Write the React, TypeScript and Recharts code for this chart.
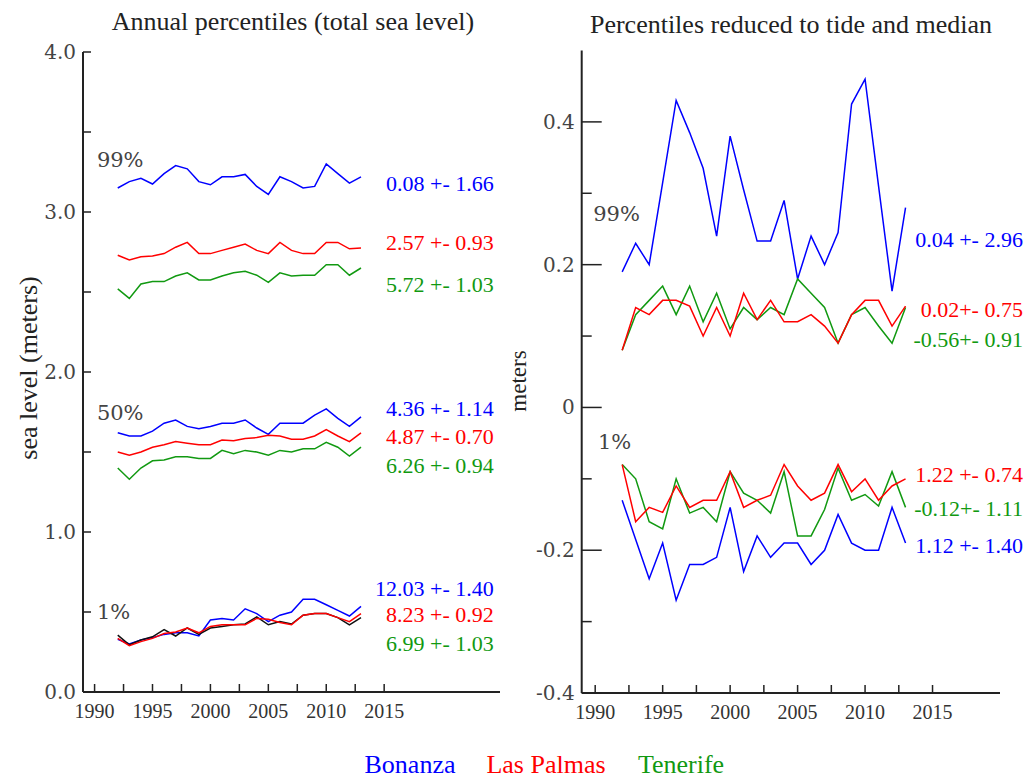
import React from 'react';
import { LineChart, Line, XAxis, YAxis, ReferenceDot } from 'recharts';

// ---------- data ----------
const years = [1992, 1993, 1994, 1995, 1996, 1997, 1998, 1999, 2000, 2001, 2002, 2003, 2004, 2005, 2006, 2007, 2008, 2009, 2010, 2011, 2012, 2013];

// Left panel: annual percentiles (total sea level, meters)
const bonanza99 = [3.15, 3.19, 3.21, 3.175, 3.24, 3.29, 3.27, 3.19, 3.17, 3.22, 3.22, 3.235, 3.16, 3.11, 3.22, 3.19, 3.15, 3.16, 3.30, 3.24, 3.18, 3.22];
const lasPalmas99 = [2.73, 2.70, 2.72, 2.725, 2.74, 2.78, 2.81, 2.74, 2.74, 2.76, 2.78, 2.80, 2.76, 2.74, 2.81, 2.76, 2.74, 2.74, 2.81, 2.81, 2.77, 2.775];
const tenerife99 = [2.52, 2.46, 2.55, 2.565, 2.565, 2.60, 2.62, 2.575, 2.575, 2.60, 2.62, 2.63, 2.605, 2.56, 2.62, 2.60, 2.605, 2.605, 2.67, 2.67, 2.605, 2.65];
const bonanza50 = [1.62, 1.60, 1.60, 1.63, 1.68, 1.70, 1.66, 1.645, 1.66, 1.68, 1.68, 1.70, 1.65, 1.61, 1.68, 1.68, 1.68, 1.73, 1.77, 1.71, 1.66, 1.72];
const lasPalmas50 = [1.50, 1.48, 1.50, 1.53, 1.545, 1.565, 1.555, 1.545, 1.545, 1.575, 1.57, 1.585, 1.59, 1.605, 1.60, 1.58, 1.58, 1.60, 1.64, 1.60, 1.565, 1.62];
const tenerife50 = [1.40, 1.33, 1.40, 1.445, 1.45, 1.47, 1.47, 1.46, 1.46, 1.51, 1.49, 1.51, 1.50, 1.48, 1.51, 1.50, 1.52, 1.52, 1.56, 1.53, 1.475, 1.53];
const bonanza1 = [0.33, 0.30, 0.325, 0.34, 0.36, 0.37, 0.37, 0.35, 0.45, 0.46, 0.45, 0.52, 0.49, 0.44, 0.48, 0.50, 0.58, 0.58, 0.545, 0.51, 0.475, 0.535];
const lasPalmas1 = [0.335, 0.29, 0.315, 0.335, 0.365, 0.375, 0.40, 0.37, 0.41, 0.42, 0.42, 0.42, 0.46, 0.455, 0.435, 0.42, 0.48, 0.49, 0.49, 0.465, 0.44, 0.49];
const tenerife1 = [0.355, 0.295, 0.325, 0.345, 0.39, 0.35, 0.40, 0.36, 0.40, 0.41, 0.42, 0.425, 0.47, 0.42, 0.44, 0.425, 0.48, 0.49, 0.49, 0.465, 0.42, 0.465];

// Right panel: percentiles reduced to tide and median (meters)
const bonanzaRed99 = [0.19, 0.23, 0.20, 0.315, 0.43, 0.385, 0.335, 0.24, 0.38, 0.305, 0.233, 0.233, 0.29, 0.18, 0.24, 0.20, 0.245, 0.425, 0.46, 0.31, 0.163, 0.28];
const lasPalmasRed99 = [0.08, 0.14, 0.13, 0.15, 0.15, 0.142, 0.10, 0.14, 0.10, 0.16, 0.123, 0.15, 0.12, 0.12, 0.13, 0.114, 0.09, 0.13, 0.15, 0.15, 0.114, 0.142];
const tenerifeRed99 = [0.08, 0.13, 0.15, 0.17, 0.13, 0.17, 0.12, 0.16, 0.11, 0.14, 0.123, 0.14, 0.13, 0.18, 0.16, 0.14, 0.09, 0.13, 0.14, 0.114, 0.09, 0.14];
const bonanzaRed1 = [-0.13, -0.185, -0.24, -0.19, -0.27, -0.22, -0.22, -0.21, -0.14, -0.23, -0.18, -0.21, -0.19, -0.19, -0.22, -0.20, -0.15, -0.19, -0.20, -0.20, -0.14, -0.19];
const lasPalmasRed1 = [-0.08, -0.16, -0.14, -0.147, -0.11, -0.14, -0.13, -0.13, -0.09, -0.14, -0.13, -0.123, -0.08, -0.11, -0.13, -0.12, -0.08, -0.118, -0.10, -0.13, -0.11, -0.10];
const tenerifeRed1 = [-0.08, -0.10, -0.16, -0.17, -0.10, -0.148, -0.14, -0.16, -0.09, -0.12, -0.13, -0.148, -0.09, -0.18, -0.18, -0.143, -0.085, -0.13, -0.122, -0.138, -0.09, -0.14];

// ticks
const leftYTicks = [0, 0.5, 1, 1.5, 2, 2.5, 3, 3.5, 4];
const rightYTicks = [-0.4, -0.3, -0.2, -0.1, 0, 0.1, 0.2, 0.3, 0.4];
const xTicks = [1990, 1992.5, 1995, 1997.5, 2000, 2002.5, 2005, 2007.5, 2010, 2012.5, 2015];

// annotations (text, value level)
const leftNoteTexts = ['0.08 +- 1.66', '2.57 +- 0.93', '5.72 +- 1.03', '4.36 +- 1.14', '4.87 +- 0.70', '6.26 +- 0.94', '12.03 +- 1.40', '8.23 +- 0.92', '6.99 +- 1.03'];
const leftNoteLevels = [3.18, 2.81, 2.55, 1.775, 1.60, 1.42, 0.65, 0.4875, 0.306];
const rightNoteTexts = ['0.04 +- 2.96', '0.02+- 0.75', '-0.56+- 0.91', '1.22 +- 0.74', '-0.12+- 1.11', '1.12 +- 1.40'];
const rightNoteLevels = [0.235, 0.138, 0.095, -0.094, -0.141, -0.193];
const leftPctTexts = ['99%', '50%', '1%'];
const leftPctLevels = [3.325, 1.744, 0.5];
const rightPctTexts = ['99%', '1%'];
const rightPctLevels = [0.271, -0.048];

const stations = ['Bonanza', 'Las Palmas', 'Tenerife'];

// ---------- styles ----------
const BLUE = '#0000ff';
const RED = '#ff0000';
const GREEN = '#119911';
const BLACK = '#111111';
const SERIF = "'Liberation Serif','Times New Roman',serif";
const DEJAVU = "'DejaVu Serif',serif";
const stationColors = [BLUE, RED, GREEN];
const leftNoteColors = [BLUE, RED, GREEN, BLUE, RED, GREEN, BLUE, RED, GREEN];
const rightNoteColors = [BLUE, RED, GREEN, RED, GREEN, BLUE];

const leftRows = years.map((year, i) => ({
  year,
  b99: bonanza99[i], l99: lasPalmas99[i], t99: tenerife99[i],
  b50: bonanza50[i], l50: lasPalmas50[i], t50: tenerife50[i],
  b1: bonanza1[i], l1: lasPalmas1[i], t1: tenerife1[i],
}));
const rightRows = years.map((year, i) => ({
  year,
  b99: bonanzaRed99[i], l99: lasPalmasRed99[i], t99: tenerifeRed99[i],
  b1: bonanzaRed1[i], l1: lasPalmasRed1[i], t1: tenerifeRed1[i],
}));

const AXIS = '#222';

const XTick = (props: any) => {
  const { x, y, payload } = props;
  const v = payload.value;
  const major = v % 5 === 0;
  return (
    <g>
      <line x1={x} y1={y} x2={x} y2={y - 8} stroke={AXIS} strokeWidth={1.5} />
      {major && (
        <text x={x} y={y + 26} textAnchor="middle" fontFamily={SERIF} fontSize={20} fill="#333">{v}</text>
      )}
    </g>
  );
};

const LeftYTick = (props: any) => {
  const { x, y, payload } = props;
  const v = payload.value;
  const major = Number.isInteger(v);
  return (
    <g>
      <line x1={x} y1={y} x2={x + 8} y2={y} stroke={AXIS} strokeWidth={1.5} />
      {major && (
        <text x={x - 7} y={y} dy="0.35em" textAnchor="end" fontFamily={DEJAVU} fontSize={20} fill="#444">{v.toFixed(1)}</text>
      )}
    </g>
  );
};

const RightYTick = (props: any) => {
  const { x, y, payload } = props;
  const v = payload.value;
  const major = Math.abs(Math.round(v * 10)) % 2 === 0;
  const label = Math.abs(v) < 1e-9 ? '0' : v.toFixed(1);
  return (
    <g>
      <line x1={x} y1={y} x2={x + (major ? 20 : 10)} y2={y} stroke={AXIS} strokeWidth={1.5} />
      {major && (
        <text x={x - 7} y={y} dy="0.35em" textAnchor="end" fontFamily={DEJAVU} fontSize={20} fill="#444">{label}</text>
      )}
    </g>
  );
};

const makeLabel = (text: string, color: string, anchor: string, font: string, size: number) => (p: any) => {
  const vb = p.viewBox || {};
  return (
    <text x={vb.x} y={vb.y} dy="0.35em" textAnchor={anchor} fontFamily={font} fontSize={size} fill={color}>{text}</text>
  );
};

const lineProps = { type: 'linear' as const, dot: false, strokeWidth: 1.5, isAnimationActive: false };

export default function App() {
  return (
    <div style={{ position: 'absolute', left: 0, top: 0, width: 1028, height: 780, background: '#fff', overflow: 'hidden' }}>
      <LineChart
        width={510}
        height={780}
        data={leftRows}
        margin={{ top: 52, right: 10, bottom: 58, left: 23 }}
        style={{ position: 'absolute', left: 0, top: 0 }}
      >
        <XAxis
          type="number"
          dataKey="year"
          domain={[1989, 2025]}
          ticks={xTicks}
          interval={0}
          tickSize={0}
          tickMargin={0}
          tickLine={false}
          tick={<XTick />}
          axisLine={{ stroke: AXIS, strokeWidth: 2 }}
          allowDataOverflow
        />
        <YAxis
          type="number"
          domain={[0, 4]}
          ticks={leftYTicks}
          interval={0}
          width={60}
          tickSize={0}
          tickMargin={0}
          tickLine={false}
          tick={<LeftYTick />}
          axisLine={{ stroke: AXIS, strokeWidth: 2 }}
          allowDataOverflow
        />
        <Line dataKey="b99" stroke={BLUE} {...lineProps} />
        <Line dataKey="l99" stroke={RED} {...lineProps} />
        <Line dataKey="t99" stroke={GREEN} {...lineProps} />
        <Line dataKey="b50" stroke={BLUE} {...lineProps} />
        <Line dataKey="l50" stroke={RED} {...lineProps} />
        <Line dataKey="t50" stroke={GREEN} {...lineProps} />
        <Line dataKey="b1" stroke={BLUE} {...lineProps} />
        <Line dataKey="t1" stroke={BLACK} {...lineProps} />
        <Line dataKey="l1" stroke={RED} {...lineProps} />
        {leftNoteTexts.map((t, i) => (
          <ReferenceDot key={'ln' + i} x={2024.46} y={leftNoteLevels[i]} r={0} fill="none" stroke="none" ifOverflow="visible"
            label={makeLabel(t, leftNoteColors[i], 'end', SERIF, 22)} />
        ))}
        {leftPctTexts.map((t, i) => (
          <ReferenceDot key={'lp' + i} x={1990.2} y={leftPctLevels[i]} r={0} fill="none" stroke="none" ifOverflow="visible"
            label={makeLabel(t, '#444', 'start', DEJAVU, 21)} />
        ))}
      </LineChart>

      <LineChart
        width={518}
        height={780}
        data={rightRows}
        margin={{ top: 50.5, right: 28, bottom: 57, left: 11.7 }}
        style={{ position: 'absolute', left: 510, top: 0 }}
      >
        <XAxis
          type="number"
          dataKey="year"
          domain={[1989, 2020]}
          ticks={xTicks}
          interval={0}
          tickSize={0}
          tickMargin={0}
          tickLine={false}
          tick={<XTick />}
          axisLine={{ stroke: AXIS, strokeWidth: 2 }}
          allowDataOverflow
        />
        <YAxis
          type="number"
          domain={[-0.4, 0.5]}
          ticks={rightYTicks}
          interval={0}
          width={60}
          tickSize={0}
          tickMargin={0}
          tickLine={false}
          tick={<RightYTick />}
          axisLine={{ stroke: AXIS, strokeWidth: 2 }}
          allowDataOverflow
        />
        <Line dataKey="b99" stroke={BLUE} {...lineProps} />
        <Line dataKey="t99" stroke={GREEN} {...lineProps} />
        <Line dataKey="l99" stroke={RED} {...lineProps} />
        <Line dataKey="b1" stroke={BLUE} {...lineProps} />
        <Line dataKey="t1" stroke={GREEN} {...lineProps} />
        <Line dataKey="l1" stroke={RED} {...lineProps} />
        {rightNoteTexts.map((t, i) => (
          <ReferenceDot key={'rn' + i} x={2021.7} y={rightNoteLevels[i]} r={0} fill="none" stroke="none" ifOverflow="visible"
            label={makeLabel(t, rightNoteColors[i], 'end', SERIF, 22)} />
        ))}
        {rightPctTexts.map((t, i) => (
          <ReferenceDot key={'rp' + i} x={i === 0 ? 1989.85 : 1990.2} y={rightPctLevels[i]} r={0} fill="none" stroke="none" ifOverflow="visible"
            label={makeLabel(t, '#444', 'start', DEJAVU, 21)} />
        ))}
      </LineChart>

      <svg width={1028} height={780} style={{ position: 'absolute', left: 0, top: 0, pointerEvents: 'none' }}>
        <text x={293} y={30} textAnchor="middle" fontFamily={SERIF} fontSize={26} fill="#222">Annual percentiles (total sea level)</text>
        <text x={791} y={33} textAnchor="middle" fontFamily={SERIF} fontSize={26} fill="#222">Percentiles reduced to tide and median</text>
        <text x={28} y={368} transform="rotate(-90 28 368)" dy="0.35em" textAnchor="middle" fontFamily={SERIF} fontSize={26} fill="#222">sea level (meters)</text>
        <text x={518} y={381} transform="rotate(-90 518 381)" dy="0.35em" textAnchor="middle" fontFamily={SERIF} fontSize={23} fill="#222">meters</text>
        {stations.map((s, i) => (
          <text key={s} x={[410, 546, 681][i]} y={773} textAnchor="middle" fontFamily={SERIF} fontSize={26} fill={stationColors[i]}>{s}</text>
        ))}
      </svg>
    </div>
  );
}
